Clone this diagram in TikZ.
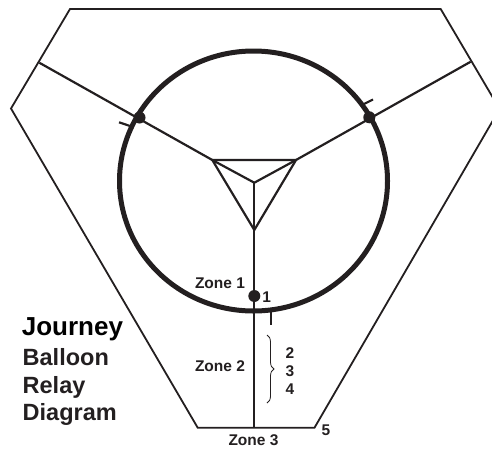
\documentclass[tikz,border=0pt]{standalone}
\usepackage{fontspec}
\setmainfont{Liberation Sans}
\usetikzlibrary{decorations.pathreplacing, positioning}
\usepackage{xcolor}
\definecolor{inkgrey}{RGB}{35,31,32}
\tikzset{
    frame/.style={draw=inkgrey, line width=1.8pt, line join=miter},
    spoke/.style={draw=inkgrey, line width=2.2pt},
    ring/.style={draw=inkgrey, line width=5pt},
    relay/.style={circle, fill=inkgrey, inner sep=0pt, minimum size=12pt},
    zone/.style={font=\bfseries\fontsize{15.5}{16}\selectfont, text=inkgrey, inner sep=0pt},
    heading/.style={font=\bfseries\fontsize{23.5}{24}\selectfont, text=inkgrey, anchor=base west, inner sep=0pt}
}

\begin{document}
\begin{tikzpicture}[x=1pt, y=-1pt]
    \useasboundingbox (0,0) rectangle (492,448);
    % outer frame
    \coordinate (hexA) at (70,9);
    \coordinate (hexB) at (440.7,9);
    \coordinate (hexC) at (499.6,109);
    \coordinate (hexD) at (314.5,427.7);
    \coordinate (hexE) at (197.7,427.7);
    \coordinate (hexF) at (11,108.5);
    \draw[frame] (hexA) -- (hexB) -- (hexC) -- (hexD) -- (hexE) -- (hexF) -- cycle;
    % inner triangle and hub
    \coordinate (triL) at (212.3,160);
    \coordinate (triR) at (296,160);
    \coordinate (triB) at (254.3,230);
    \coordinate (hub) at (254.3,182.7);
    \coordinate (base) at (254.3,427.7);
    \draw[spoke] (triL) -- (triR) -- (triB) -- cycle;
    \draw[spoke] (triL) -- (hub) -- (triR);
    \draw[spoke] (hub) -- (base);
    % spokes out to the frame
    \coordinate (edgeL) at (39.3,62.7);
    \coordinate (edgeR) at (470.7,61.7);
    \draw[spoke] (edgeL) -- (triL);
    \draw[spoke] (edgeR) -- (triR);
    % balloon ring
    \draw[ring] (253.5,181) ellipse (134pt and 130pt);
    % ticks
    \coordinate (tickLa) at (131.5,126.5);
    \coordinate (tickLb) at (119,122.3);
    \coordinate (tickRa) at (362,105);
    \coordinate (tickRb) at (373,99.5);
    \coordinate (tickBa) at (270.7,312);
    \coordinate (tickBb) at (270.7,325);
    \draw[spoke] (tickLa) -- (tickLb);
    \draw[spoke] (tickRa) -- (tickRb);
    \draw[spoke] (tickBa) -- (tickBb);
    % relay points
    \node[relay] (relayL) at (139.5,117.5) {};
    \node[relay] (relayR) at (369.3,117.3) {};
    \node[relay] (relay1) at (254.3,296) {};
    % zone labels
    \node[zone] (zone1) at (220,283) {Zone 1};
    \node[zone] (zone2) at (220,366) {Zone 2};
    \node[zone] (zone3) at (253.5,440.3) {Zone 3};
    \node[zone] (num1) at (266.7,296.7) {1};
    \node[zone] (num2) at (290,352.7) {2};
    \node[zone] (num3) at (290,371) {3};
    \node[zone] (num4) at (290,389.3) {4};
    \node[zone] (num5) at (326,430) {5};
    \coordinate (braceTop) at (267,335);
    \coordinate (braceBot) at (267,403);
    \draw[inkgrey, line width=0.8pt, decorate, decoration={brace, amplitude=7pt}] (braceTop) -- (braceBot);
    % title
    \node[heading, text=black, font=\bfseries\fontsize{26}{26}\selectfont] (journey) at (21.7,335) {Journey};
    \node[heading] (balloon) at (22.5,365.7) {Balloon};
    \node[heading] (relay) at (22.5,393.3) {Relay};
    \node[heading] (diagram) at (22.5,420.7) {Diagram};
\end{tikzpicture}
\end{document}
